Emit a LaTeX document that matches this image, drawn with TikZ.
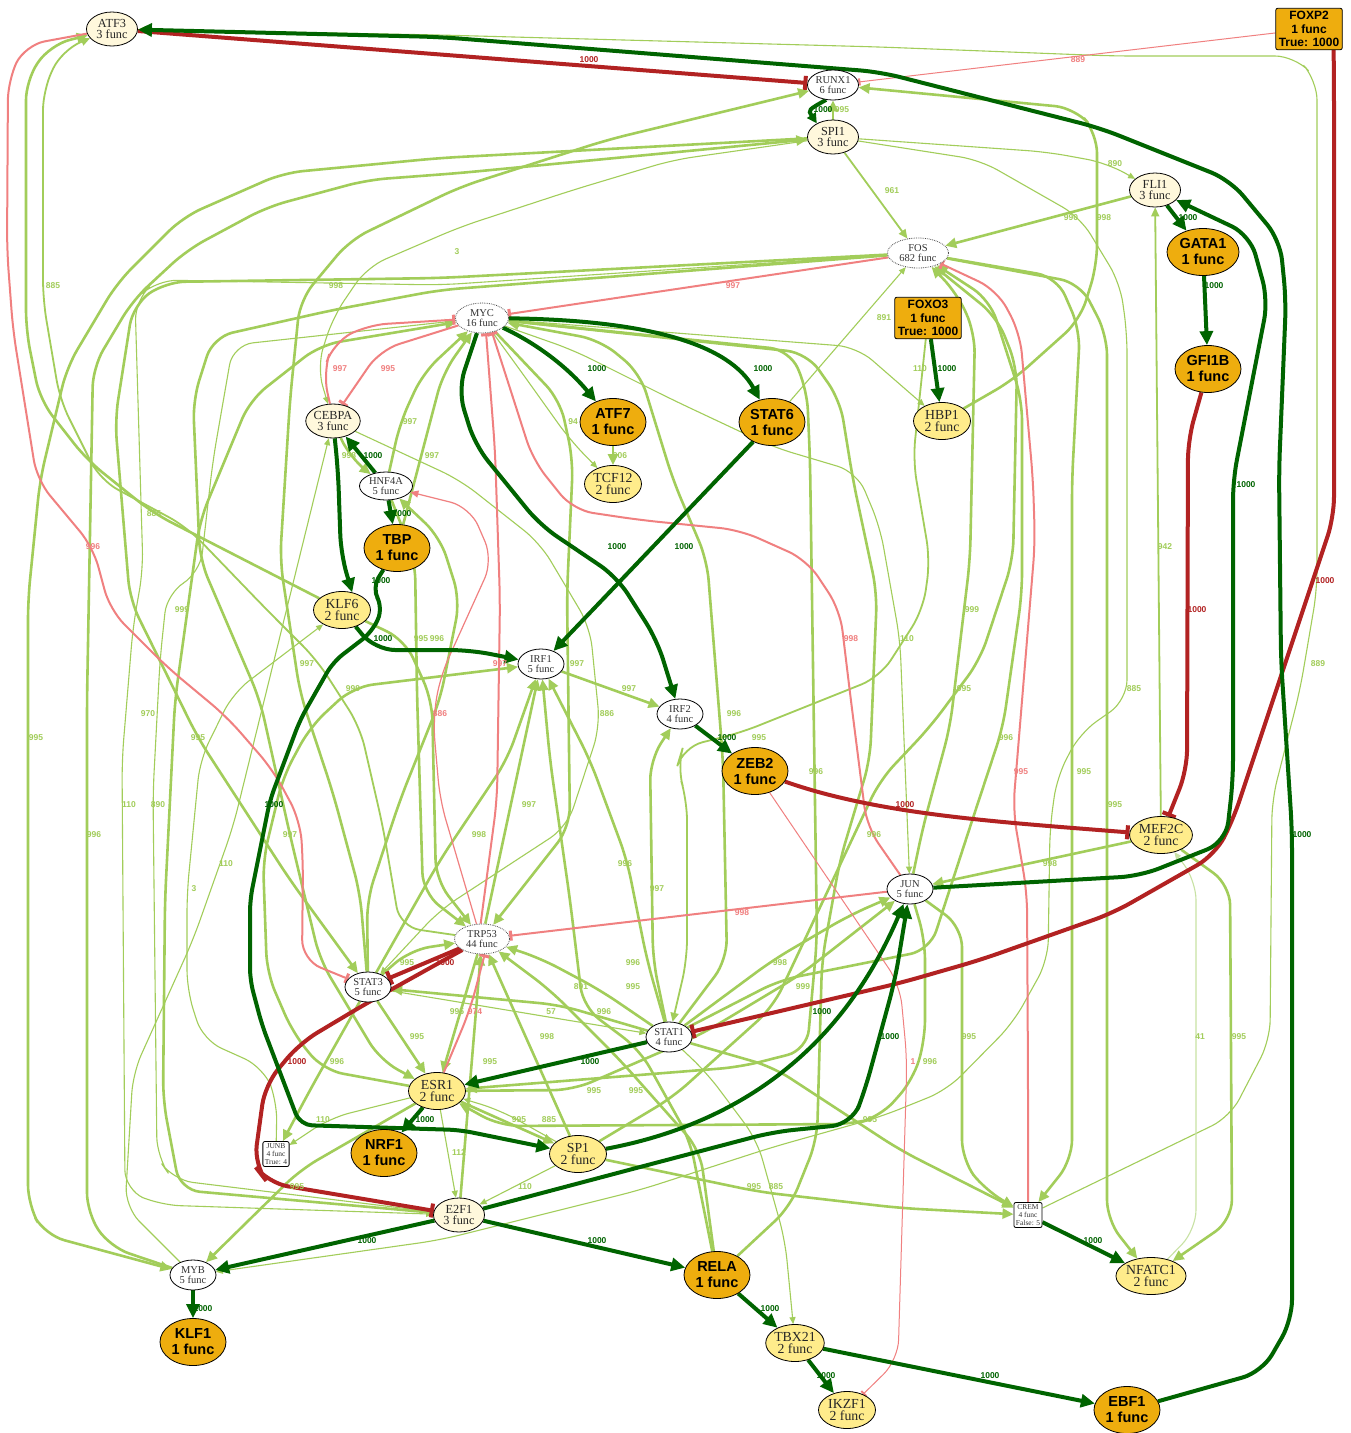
\documentclass[tikz,border=0pt]{standalone}
\usepackage{fontspec}
\setmainfont{Liberation Serif}
\setsansfont{Liberation Sans}
\usetikzlibrary{shapes.geometric,arrows.meta}
\pgfdeclarelayer{bg}
\pgfsetlayers{bg,main}
\definecolor{dgold}{HTML}{EEAD0E}
\definecolor{lgold}{HTML}{FFEC8B}
\definecolor{csilk}{HTML}{FFF8DC}
\definecolor{dgreen}{HTML}{006400}
\definecolor{fbrick}{HTML}{B22222}
\definecolor{lcoral}{HTML}{F08080}
\definecolor{olive3}{HTML}{A2CD5A}
\definecolor{paleg}{HTML}{C8E2A4}
\newcommand\fntW{\fontsize{10.5}{10}\selectfont}
\newcommand\fntC{\fontsize{12.3}{11}\selectfont}
\newcommand\fntY{\fontsize{13.8}{12.5}\selectfont}
\newcommand\fntO{\sffamily\bfseries\fontsize{14.5}{16}\selectfont}
\newcommand\fntB{\sffamily\bfseries\fontsize{12}{13.5}\selectfont}
\newcommand\fntS{\fontsize{7.5}{8}\selectfont}
\newcommand\fntL{\sffamily\bfseries\fontsize{8.5}{9}\selectfont}
\tikzset{
 nW/.style={ellipse, draw=black, line width=0.8pt, fill=white, text=black!80, font=\fntW, align=center, inner sep=0pt, minimum width=46pt, minimum height=30pt},
 nD/.style={nW, densely dotted, draw=black!70},
 nC/.style={ellipse, draw=black, line width=0.8pt, fill=csilk, text=black!85, font=\fntC, align=center, inner sep=0pt, minimum width=51pt, minimum height=34pt},
 nY/.style={ellipse, draw=black, line width=0.8pt, fill=lgold, text=black!85, font=\fntY, align=center, inner sep=0pt, minimum width=57pt, minimum height=37pt},
 nO/.style={ellipse, draw=black, line width=0.8pt, fill=dgold, text=black, font=\fntO, align=center, inner sep=0pt, minimum width=66pt, minimum height=47pt},
 nB/.style={rectangle, rounded corners=2pt, draw=black, line width=0.8pt, fill=dgold, text=black, font=\fntB, align=center, inner sep=3pt},
 nS/.style={rectangle, rounded corners=2pt, draw=black, line width=0.8pt, fill=white, text=black!80, font=\fntS, align=center, inner sep=2pt},
 eD/.style={draw=dgreen, line width=4pt, -{Triangle[length=14pt,width=13pt]}, rounded corners=20pt},
 eR/.style={draw=fbrick, line width=4pt, -{Rectangle[length=4pt,width=14pt]}, rounded corners=20pt},
 eL/.style={draw=lcoral, line width=2pt, -{Rectangle[length=3pt,width=10pt]}, rounded corners=20pt},
 eLt/.style={draw=lcoral, line width=1pt, -{Rectangle[length=2pt,width=7pt]}, rounded corners=20pt},
 eLa/.style={draw=lcoral, line width=1.2pt, -{Triangle[length=8pt,width=7pt]}, rounded corners=20pt},
 eG/.style={draw=olive3, line width=2.6pt, -{Triangle[length=11pt,width=10pt]}, rounded corners=20pt},
 eGm/.style={draw=olive3, line width=1.8pt, -{Triangle[length=9pt,width=8pt]}, rounded corners=20pt},
 eGt/.style={draw=olive3, line width=1.1pt, -{Triangle[length=7pt,width=6pt]}, rounded corners=20pt},
 eGp/.style={draw=paleg, line width=1.1pt, -{Triangle[length=7pt,width=6pt]}, rounded corners=20pt},
 lb/.style={font=\fntL, inner sep=0pt},
 lg/.style={lb, text=olive3}, ld/.style={lb, text=dgreen},
 lr/.style={lb, text=fbrick}, ll/.style={lb, text=lcoral}
}
\begin{document}
\begin{tikzpicture}[x=1pt,y=-1pt]
\useasboundingbox (0,0) rectangle (1351,1433);
% ---------------- nodes
\node[nC] (ATF3) at (112,29) {ATF3\\3 func};
\node[nB] (FOXP2) at (1309,29) {FOXP2\\1 func\\True: 1000};
\node[nW,minimum width=51pt] (RUNX1) at (833,85) {RUNX1\\6 func};
\node[nC] (SPI1) at (833,137) {SPI1\\3 func};
\node[nC] (FLI1) at (1155,190) {FLI1\\3 func};
\node[nD,minimum width=61pt] (FOS) at (918,253) {FOS\\682 func};
\node[nO,minimum width=72pt] (GATA1) at (1203,252) {GATA1\\1 func};
\node[nB] (FOXO3) at (928,318) {FOXO3\\1 func\\True: 1000};
\node[nO] (GFI1B) at (1208,369) {GFI1B\\1 func};
\node[nD,minimum width=53pt] (MYC) at (482,318) {MYC\\16 func};
\node[nO] (ATF7) at (613,422) {ATF7\\1 func};
\node[nO] (STAT6) at (772,422) {STAT6\\1 func};
\node[nC] (CEBPA) at (333,421) {CEBPA\\3 func};
\node[nY] (HBP1) at (942,421) {HBP1\\2 func};
\node[nY] (TCF12) at (613,484) {TCF12\\2 func};
\node[nW,minimum width=53pt,minimum height=28pt] (HNF4A) at (386,486) {HNF4A\\5 func};
\node[nO] (TBP) at (397,548) {TBP\\1 func};
\node[nY] (KLF6) at (342,610) {KLF6\\2 func};
\node[nW] (IRF1) at (541,664) {IRF1\\5 func};
\node[nW] (IRF2) at (680,714) {IRF2\\4 func};
\node[nO] (ZEB2) at (755,771) {ZEB2\\1 func};
\node[nY] (MEF2C) at (1161,835) {MEF2C\\2 func};
\node[nW] (JUN) at (910,889) {JUN\\5 func};
\node[nD,minimum width=55pt] (TRP53) at (482,939) {TRP53\\44 func};
\node[nW] (STAT3) at (368,987) {STAT3\\5 func};
\node[nW] (STAT1) at (669,1037) {STAT1\\4 func};
\node[nY] (ESR1) at (437,1091) {ESR1\\2 func};
\node[nS] (JUNB) at (276,1154) {JUNB\\4 func\\True: 4};
\node[nO] (NRF1) at (384,1153) {NRF1\\1 func};
\node[nY] (SP1) at (578,1154) {SP1\\2 func};
\node[nC] (E2F1) at (459,1215) {E2F1\\3 func};
\node[nS] (CREM) at (1028,1215) {CREM\\4 func\\False: 5};
\node[nW] (MYB) at (193,1275) {MYB\\5 func};
\node[nO] (RELA) at (717,1275) {RELA\\1 func};
\node[nY] (NFATC1) at (1151,1276) {NFATC1\\2 func};
\node[nO] (KLF1) at (193,1342) {KLF1\\1 func};
\node[nY] (TBX21) at (795,1343) {TBX21\\2 func};
\node[nO] (EBF1) at (1127,1410) {EBF1\\1 func};
\node[nY] (IKZF1) at (847,1410) {IKZF1\\2 func};
% ---------------- edges
\begin{pgfonlayer}{bg}
\fill[white] (0,0) rectangle (1351,1433);
% light green, long routes
\draw[eG] (SPI1) -- (440,158) -- (283,173) -- (183,217) -- (117,283) -- (67,367) -- (40,480) -- (28,600) -- (28,1205) -- (45,1235) -- (MYB);
\draw[eG] (MYB) -- (110,1247) -- (87,1213) -- (87,700) -- (93,367) -- (133,300) -- (187,250) -- (267,207) -- (367,180) -- (460,173) -- (SPI1);
\draw[eG] (KLF6) -- (153,513) -- (87,460) -- (40,400) -- (26,330) -- (26,80) -- (50,45) -- (ATF3);
\draw[eGm] (TRP53) -- (400,927) -- (383,827) -- (360,727) -- (317,660) -- (267,610) -- (187,527) -- (100,480) -- (60,400) -- (43,300) -- (43,90) -- (62,50) -- (ATF3);
\draw[eGt] (MYC) -- (233,345) -- (213,460) -- (200,573) -- (167,593) -- (160,660) -- (153,793) -- (157,1157) -- (173,1180) -- (E2F1);
\draw[eGt] (FOS) -- (440,285) -- (157,280) -- (135,300) -- (143,570) -- (133,627) -- (122,760) -- (125,1190) -- (160,1205) -- (E2F1);
\draw[eGt] (JUNB) -- (277,1100) -- (263,1067) -- (203,1040) -- (187,990) -- (187,893) -- (200,760) -- (233,693) -- (KLF6);
\draw[eG] (E2F1) -- (180,1190) -- (163,1100) -- (165,900) -- (175,700) -- (200,520) -- (250,400) -- (320,345) -- (MYC);
\draw[eG] (FOS) -- (440,278) -- (165,282) -- (133,305) -- (115,420) -- (130,600) -- (198,738) -- (290,880) -- (STAT3);
\draw[eG] (FOS) -- (440,290) -- (333,310) -- (213,337) -- (193,400) -- (200,560) -- (260,700) -- (290,835) -- (320,960) -- (380,1060) -- (ESR1);
\draw[eG] (ESR1) -- (323,1070) -- (293,1033) -- (267,973) -- (263,860) -- (283,777) -- (310,727) -- (353,687) -- (IRF1);
\draw[eG] (STAT3) -- (360,893) -- (333,793) -- (300,693) -- (280,560) -- (290,400) -- (300,300) -- (350,240) -- (460,187) -- (607,140) -- (RUNX1);
\draw[eGt] (SPI1) -- (673,160) -- (573,190) -- (460,227) -- (367,267) -- (333,317) -- (317,367) -- (CEBPA);
\draw[eGt] (MYB) -- (125,1207) -- (133,1073) -- (193,940) -- (233,827) -- (CEBPA);
% top right
\draw[eG] (SPI1) -- (RUNX1);
\draw[eG] (HBP1) -- (1013,380) -- (1080,320) -- (1097,265) -- (1097,133) -- (1075,108) -- (RUNX1);
\draw[eGt] (SPI1) -- (1047,152) -- (1107,163) -- (FLI1);
\draw[eGm] (SPI1) -- (FOS);
\draw[eG] (FLI1) -- (FOS);
\draw[eGt] (STAT6) -- (FOS);
\draw[eGt] (CREM) -- (1230,1117) -- (1270,1040) -- (1272,800) -- (1300,690) -- (1317,590) -- (1317,80) -- (1295,56) -- (1113,56) -- (880,47) -- (440,35) -- (ATF3);
\draw[eGm] (MEF2C) -- (FLI1);
\draw[eG] (MEF2C) -- (JUN);
\draw[eGp] (NFATC1) -- (1196,1230) -- (1196,880) -- (MEF2C);
\draw[eG] (MEF2C) -- (1230,885) -- (1232,1220) -- (NFATC1);
\draw[eG] (FOS) -- (1080,283) -- (1107,335) -- (1107,1220) -- (NFATC1);
\draw[eG] (FOS) -- (1057,277) -- (1080,330) -- (1072,480) -- (1072,1160) -- (CREM);
\draw[eG] (JUN) -- (962,927) -- (962,1160) -- (985,1190) -- (CREM);
\draw[eG] (SP1) -- (760,1192) -- (900,1208) -- (CREM);
\draw[eGt] (STAT1) -- (707,1073) -- (757,1140) -- (785,1240) -- (TBX21);
\draw[eGt] (SPI1) -- (980,160) -- (1080,217) -- (1120,283) -- (1127,333) -- (1127,700) -- (1080,733) -- (1057,777) -- (1050,827) -- (1048,960) -- (1013,1023) -- (947,1090) -- (880,1117) -- (773,1147) -- (640,1190) -- (440,1240) -- (MYB);
\draw[eG] (JUN) -- (923,827) -- (950,727) -- (970,560) -- (975,333) -- (957,293) -- (FOS);
\draw[eG] (SP1) -- (673,1097) -- (773,1007) -- (880,780) -- (930,727) -- (980,660) -- (1013,560) -- (1017,367) -- (997,317) -- (FOS);
\draw[eG] (STAT1) -- (780,980) -- (930,950) -- (970,827) -- (1003,727) -- (1022,593) -- (1022,400) -- (990,300) -- (FOS);
\draw[eGt] (MYC) -- (573,350) -- (673,400) -- (773,447) -- (857,472) -- (880,527) -- (900,640) -- (JUN);
\draw[eGt] (MYC) -- (857,347) -- (HBP1);
\draw[eGm] (FOXO3) -- (913,460) -- (930,560) -- (923,610) -- (880,677) -- (740,733) -- (683,747) -- (677,767) -- (687,800) -- (687,960) -- (STAT1);
% around MYC
\draw[eG] (HNF4A) -- (400,423) -- (423,373) -- (MYC);
\draw[eG] (TBP) -- (428,430) -- (443,373) -- (MYC);
\draw[eGt] (MYC) -- (520,370) -- (570,440) -- (TCF12);
\draw[eG] (ATF7) -- (TCF12);
\draw[eG] (CEBPA) -- (350,458) -- (HNF4A);
\draw[eG] (MYC) -- (560,400) -- (573,460) -- (567,593) -- (570,827) -- (TRP53);
\draw[eG] (TRP53) -- (IRF1);
\draw[eG] (STAT3) -- (440,860) -- (507,760) -- (IRF1);
\draw[eGt] (CEBPA) -- (460,480) -- (540,543) -- (590,627) -- (600,727) -- (567,827) -- (440,910) -- (STAT3);
\draw[eG] (IRF1) -- (IRF2);
\draw[eG] (STAT1) -- (727,960) -- (723,760) -- (707,560) -- (673,480) -- (640,373) -- (600,340) -- (MYC);
\draw[eG] (MYC) -- (790,350) -- (807,390) -- (810,460) -- (817,940) -- (807,1050) -- (740,1067) -- (ESR1);
\draw[eG] (RELA) -- (790,1207) -- (817,1140) -- (822,960) -- (840,860) -- (870,760) -- (877,593) -- (853,480) -- (840,400) -- (807,353) -- (MYC);
\draw[eG] (STAT1) -- (653,960) -- (650,760) -- (IRF2);
\draw[eG] (STAT1) -- (647,960) -- (627,860) -- (590,760) -- (IRF1);
\draw[eG] (RELA) -- (690,1140) -- (640,1050) -- (583,1007) -- (570,900) -- (550,760) -- (IRF1);
\draw[eG] (HNF4A) -- (415,560) -- (417,693) -- (423,893) -- (TRP53);
\draw[eG] (KLF6) -- (405,640) -- (432,700) -- (436,880) -- (TRP53);
\draw[eG] (STAT3) -- (367,900) -- (400,800) -- (440,700) -- (460,600) -- (440,537) -- (HNF4A);
% hub TRP53 / STAT3 / STAT1
\draw[eG] (STAT3) -- (410,950) -- (TRP53);
\draw[eG] (TRP53) -- (ESR1);
\draw[eG] (E2F1) -- (TRP53);
\draw[eG] (SP1) -- (TRP53);
\draw[eG] (STAT1) -- (600,990) -- (540,958) -- (TRP53);
\draw[eG] (RELA) -- (700,1150) -- (620,1060) -- (550,990) -- (TRP53);
\draw[eG] (STAT1) -- (560,1005) -- (STAT3);
\draw[eGt] (STAT3) -- (STAT1);
\draw[eG] (STAT1) -- (773,960) -- (850,915) -- (JUN);
\draw[eG] (ESR1) -- (573,1090) -- (700,1035) -- (800,975) -- (JUN);
\draw[eG] (JUN) -- (925,940) -- (925,1040) -- (913,1080) -- (880,1117) -- (853,1124) -- (500,1126) -- (ESR1);
\draw[eG] (STAT3) -- (ESR1);
\draw[eG] (STAT3) -- (310,1090) -- (JUNB);
\draw[eGt] (ESR1) -- (330,1118) -- (JUNB);
\draw[eG] (ESR1) -- (SP1);
\draw[eGt] (SP1) -- (500,1110) -- (ESR1);
\draw[eGt] (ESR1) -- (E2F1);
\draw[eGt] (SP1) -- (E2F1);
\draw[eG] (ESR1) -- (300,1170) -- (MYB);
\draw[eG] (STAT1) -- (773,1067) -- (900,1150) -- (CREM);
% light red
\draw[eLt] (FOXP2) -- (RUNX1);
\draw[eL] (FOS) -- (MYC);
\draw[eL] (CEBPA.100) -- (323,373) -- (333,343) -- (367,325) -- (MYC);
\draw[eL] (MYC) -- (380,350) -- (CEBPA.60);
\draw[eL] (TRP53.95) -- (497,800) -- (500,600) -- (495,450) -- (MYC.-75);
\draw[eL] (JUN) -- (867,827) -- (850,693) -- (840,610) -- (807,560) -- (740,530) -- (640,520) -- (573,510) -- (533,460) -- (MYC.-55);
\draw[eLa] (TRP53.110) -- (440,800) -- (433,720) -- (440,677) -- (493,560) -- (470,507) -- (HNF4A);
\draw[eL] (CREM) -- (1028,1080) -- (1027,893) -- (1013,810) -- (1035,543) -- (1033,480) -- (1020,333) -- (997,290) -- (FOS);
\draw[eL] (JUN) -- (TRP53);
\draw[eL] (ESR1.70) -- (470,1010) -- (TRP53.-80);
\draw[eL] (ATF3) -- (25,45) -- (8,80) -- (7,250) -- (13,330) -- (37,480) -- (93,547) -- (110,610) -- (167,667) -- (227,717) -- (273,770) -- (300,820) -- (303,860) -- (302,960) -- (STAT3);
\draw[eLt] (ZEB2) -- (900,985) -- (907,1060) -- (898,1360) -- (IKZF1);
% dark red
\draw[eR] (ATF3) -- (RUNX1);
\draw[eR] ([xshift=-9pt]FOXP2.south east) -- (1334,90) -- (1334,517) -- (1233,820) -- (1215,855) -- (1113,913) -- (980,960) -- (900,983) -- (STAT1);
\draw[eR] (GFI1B) -- (1188,440) -- (1187,770) -- (MEF2C);
\draw[eR] (ZEB2) .. controls (880,815) and (1000,822) .. (MEF2C);
\draw[eR] (TRP53) -- (STAT3);
\draw[eR] (TRP53) -- (367,1003) -- (300,1043) -- (265,1085) -- (254,1165) -- (268,1183) -- (E2F1);
% dark green
\draw[eD,-{Triangle[length=10pt,width=10pt]}] (RUNX1.245) .. controls (808,110) .. (SPI1.140);
\draw[eD] (EBF1) -- (1262,1372) -- (1292,1320) -- (1292,830) -- (1281,660) -- (1279,470) -- (1286,300) -- (1280,240) -- (1230,180) -- (1100,128) -- (880,72) -- (440,37) -- (ATF3);
\draw[eD] (JUN) -- (1140,876) -- (1226,842) -- (1233,780) -- (1233,480) -- (1268,300) -- (1250,235) -- (FLI1);
\draw[eD] (FLI1) -- (GATA1);
\draw[eD] (GATA1) -- (GFI1B);
\draw[eD] (FOXO3) -- (HBP1);
\draw[eD] (MYC) .. controls (540,345) and (570,370) .. (ATF7);
\draw[eD] (MYC) .. controls (650,320) and (730,345) .. (STAT6);
\draw[eD] (STAT6) -- (IRF1);
\draw[eD] (MYC) -- (458,390) -- (475,445) -- (540,525) -- (617,577) -- (657,640) -- (IRF2);
\draw[eD] (IRF2) -- (ZEB2);
\draw[eD] (HNF4A) -- (CEBPA);
\draw[eD] (HNF4A) -- (TBP);
\draw[eD] (CEBPA) -- (338,470) -- (341,555) -- (KLF6.60);
\draw[eD,rounded corners=12pt] (TBP) -- (372,588) -- (383,608) -- (372,632) -- (333,662) -- (300,720) -- (270,800) -- (250,900) -- (250,980) -- (262,1025) -- (300,1125) -- (460,1130) -- (SP1);
\draw[eD] (KLF6) -- (375,650) -- (470,650) -- (IRF1);
\draw[eD] (STAT1) -- (ESR1);
\draw[eD] (ESR1) -- (NRF1);
\draw[eD] (SP1) .. controls (760,1120) and (850,1030) .. (JUN);
\draw[eD] (E2F1) -- (640,1167) -- (773,1132) -- (852,1124) -- (865,1090) -- (895,980) -- (JUN);
\draw[eD] (E2F1) -- (MYB);
\draw[eD] (E2F1) -- (RELA);
\draw[eD] (RELA) -- (TBX21);
\draw[eD] (TBX21) -- (IKZF1);
\draw[eD] (TBX21) -- (EBF1);
\draw[eD] (MYB) -- (KLF1);
\draw[eD] (CREM) -- (NFATC1);
\end{pgfonlayer}
% ---------------- labels
\foreach \t/\x/\y [count=\i] in {1000/589/60,1000/1197/610,1000/1325/581,1000/905/805,1000/445/963,1000/297/1062}
  \node[lr] (lr\i) at (\x,\y) {\t};
\foreach \t/\x/\y [count=\i] in {889/1078/60,997/733/286,997/340/369,995/388/369,996/93/547,998/851/639,997/500/664,886/440/714,995/1021/772,998/742/913,974/475/1012,1/913/1062}
  \node[ll] (ll\i) at (\x,\y) {\t};
\foreach \t/\x/\y [count=\i] in {1000/823/110,1000/1188/218,1000/1214/286,1000/947/369,1000/597/369,1000/763/369,1000/373/456,1000/402/514,1000/1246/485,1000/617/547,1000/684/547,1000/381/581,1000/383/639,1000/727/738,1000/274/805,1000/1302/835,1000/822/1012,1000/890/1037,1000/590/1062,1000/425/1120,1000/367/1241,1000/597/1241,1000/1093/1241,1000/203/1309,1000/770/1309,1000/826/1376,1000/990/1376}
  \node[ld] (ld\i) at (\x,\y) {\t};
\foreach \t/\x/\y [count=\i] in {995/842/110,890/1115/164,961/892/191,990/1071/218,998/1104/218,3/457/252,885/53/286,998/336/286,891/884/318,110/920/369,997/410/422,94/573/422,998/349/456,997/432/456,906/620/456,885/154/514,942/1165/547,999/182/610,995/421/639,996/437/639,110/907/639,997/307/664,997/577/664,889/1318/664,999/353/689,997/629/689,999/972/610,995/964/689,885/1134/689,995/36/738,970/148/714,995/198/738,886/607/714,996/734/714,995/759/738,996/1006/738,996/816/772,995/1084/772,110/129/805,890/158/805,997/529/805,995/1115/805,996/94/835,997/290/835,998/479/835,996/874/835,998/1050/864,110/226/864,996/625/864,3/194/889,997/657/889,995/407/963,996/633/963,998/780/963,891/581/987,995/633/987,999/803/987,57/551/1012,996/604/1012,995/457/1012,995/417/1037,998/547/1037,995/969/1037,41/1200/1037,995/1239/1037,996/337/1062,995/490/1062,996/930/1062,995/594/1091,995/636/1091,110/323/1120,995/519/1120,885/549/1120,995/870/1120,112/459/1153,110/525/1187,995/754/1187,885/776/1187,995/297/1187}
  \node[lg] (lg\i) at (\x,\y) {\t};
\end{tikzpicture}
\end{document}
